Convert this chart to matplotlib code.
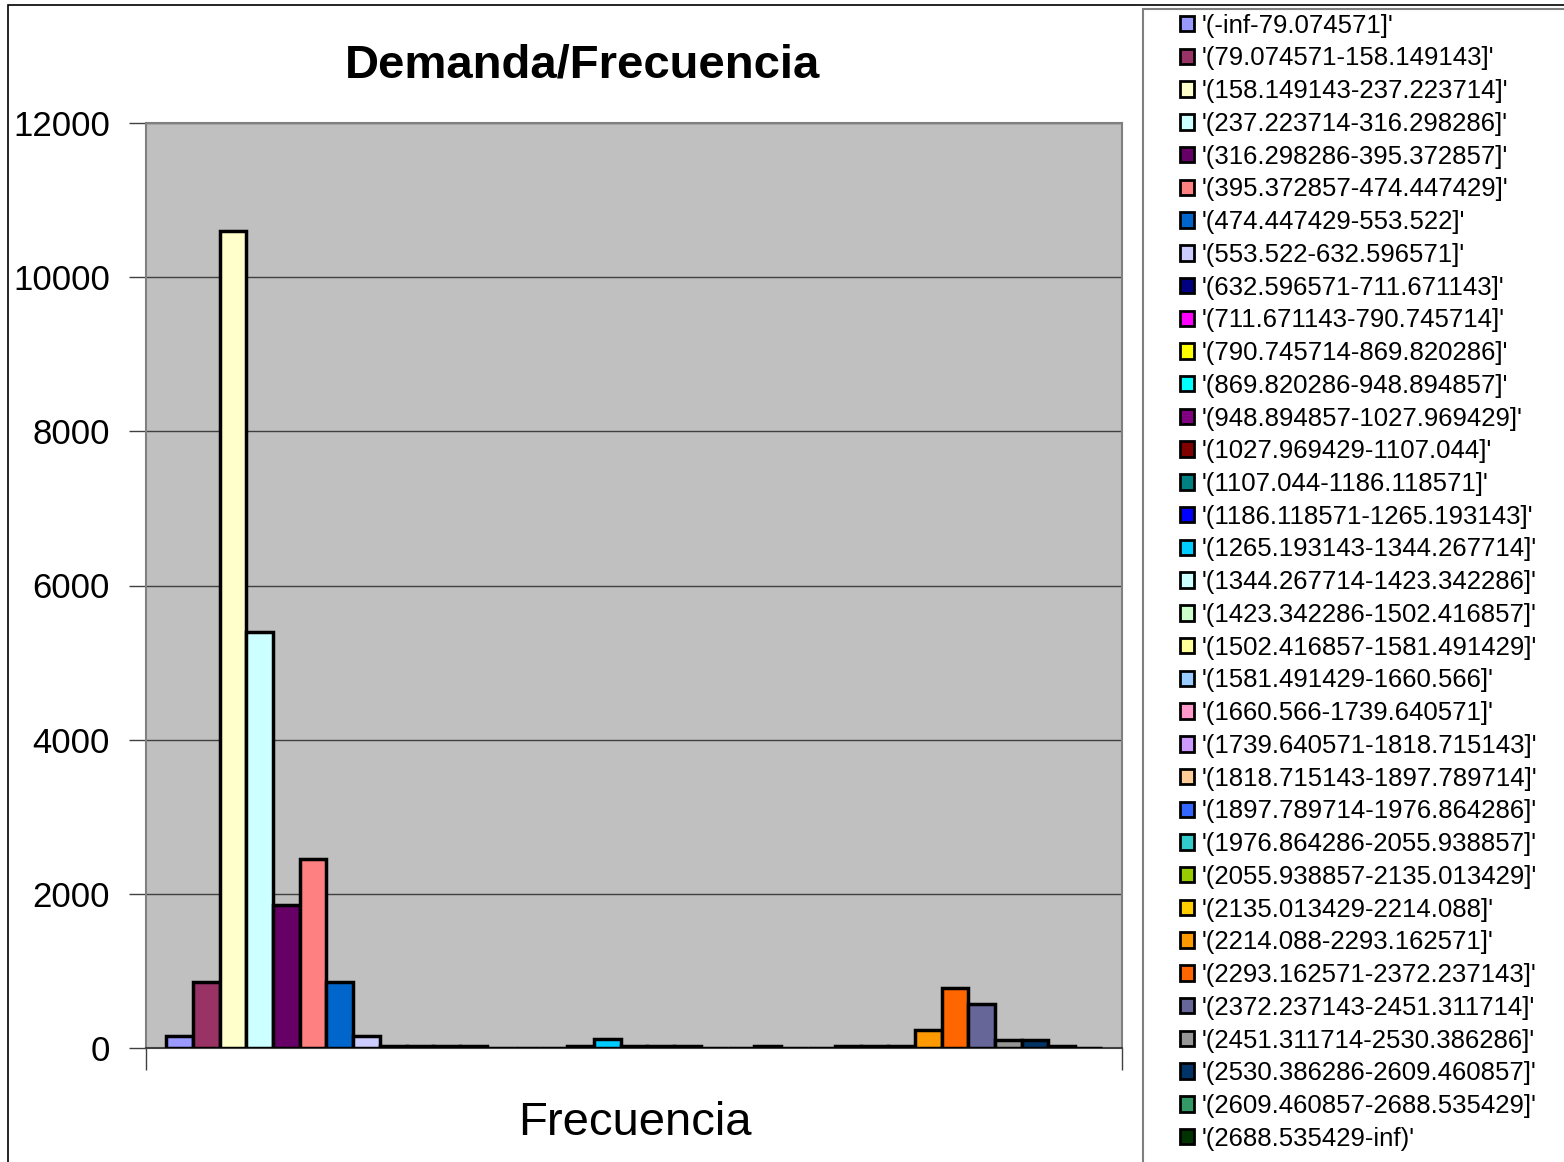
import numpy as np
import matplotlib
matplotlib.use("Agg")
import matplotlib.pyplot as plt
from matplotlib.patches import Patch, Rectangle

# 35 class intervals of demand, one bar each
labels = [
    "'(-inf-79.074571]'", "'(79.074571-158.149143]'", "'(158.149143-237.223714]'",
    "'(237.223714-316.298286]'", "'(316.298286-395.372857]'", "'(395.372857-474.447429]'",
    "'(474.447429-553.522]'", "'(553.522-632.596571]'", "'(632.596571-711.671143]'",
    "'(711.671143-790.745714]'", "'(790.745714-869.820286]'", "'(869.820286-948.894857]'",
    "'(948.894857-1027.969429]'", "'(1027.969429-1107.044]'", "'(1107.044-1186.118571]'",
    "'(1186.118571-1265.193143]'", "'(1265.193143-1344.267714]'", "'(1344.267714-1423.342286]'",
    "'(1423.342286-1502.416857]'", "'(1502.416857-1581.491429]'", "'(1581.491429-1660.566]'",
    "'(1660.566-1739.640571]'", "'(1739.640571-1818.715143]'", "'(1818.715143-1897.789714]'",
    "'(1897.789714-1976.864286]'", "'(1976.864286-2055.938857]'", "'(2055.938857-2135.013429]'",
    "'(2135.013429-2214.088]'", "'(2214.088-2293.162571]'", "'(2293.162571-2372.237143]'",
    "'(2372.237143-2451.311714]'", "'(2451.311714-2530.386286]'", "'(2530.386286-2609.460857]'",
    "'(2609.460857-2688.535429]'", "'(2688.535429-inf)'",
]
frequency = [
    150, 860, 10600, 5400, 1860, 2450, 860, 150, 30, 30,
    30, 30, 0, 0, 0, 30, 120, 30, 30, 30,
    0, 0, 30, 0, 0, 30, 30, 30, 240, 780,
    570, 100, 110, 30, 0,
]
colors = [
    "#9999FF", "#993366", "#FFFFCC", "#CCFFFF", "#660066", "#FF8080", "#0066CC",
    "#CCCCFF", "#000080", "#FF00FF", "#FFFF00", "#00FFFF", "#800080", "#800000",
    "#008080", "#0000FF", "#00CCFF", "#CCFFFF", "#CCFFCC", "#FFFF99", "#99CCFF",
    "#FF99CC", "#CC99FF", "#FFCC99", "#3366FF", "#33CCCC", "#99CC00", "#FFCC00",
    "#FF9900", "#FF6600", "#666699", "#969696", "#003366", "#339966", "#003300",
]
yticks = [0, 2000, 4000, 6000, 8000, 10000, 12000]

W, H = 1564, 1162
fig = plt.figure(figsize=(W / 100, H / 100), dpi=100)
plt.rcParams["font.family"] = ["Liberation Sans", "DejaVu Sans"]

ax = fig.add_axes([146 / W, 1 - 1048 / H, (1122 - 146) / W, (1048 - 123) / H])
ax.set_facecolor("#C0C0C0")

x = np.arange(len(frequency))
ax.bar(x, frequency, width=1.0, color=colors, edgecolor="black", linewidth=2.5, zorder=3)
ax.set_xlim(-0.5 - 0.75, len(frequency) - 0.5 + 0.75)
ax.set_ylim(0, 12000)
ax.set_yticks(yticks)
ax.set_yticklabels([str(v) for v in yticks], fontsize=25)
ax.grid(axis="y", color="#404040", linewidth=1.0, zorder=1)
ax.tick_params(axis="y", length=12, width=1, color="#404040", pad=14)
ax.set_xticks([ax.get_xlim()[0], ax.get_xlim()[1]])
ax.set_xticklabels(["", ""])
ax.tick_params(axis="x", length=16, width=1, color="#404040")
for side in ("top", "left", "right"):
    ax.spines[side].set_color("#808080")
    ax.spines[side].set_linewidth(1.5)
ax.spines["bottom"].set_color("#404040")
ax.spines["bottom"].set_linewidth(1.5)

fig.text(582 / W, 1 - 66 / H, "Demanda/Frecuencia", ha="center", va="center",
         fontsize=34, fontweight="bold")
fig.text(635 / W, 1 - 1123 / H, "Frecuencia", ha="center", va="center", fontsize=34)

# outer chart frame and legend frame
fig.patches.append(Rectangle((8 / W, -0.01), 1.1, 1 - 5 / H + 0.01, transform=fig.transFigure,
                             fill=False, edgecolor="black", linewidth=1.2))
fig.patches.append(Rectangle((1143 / W, -0.01), 1.1, 1 - 9 / H + 0.01, transform=fig.transFigure,
                             fill=False, edgecolor="#808080", linewidth=1.5))

handles = [Patch(facecolor=c, edgecolor="black", linewidth=2) for c in colors]
leg = fig.legend(handles, labels, loc="upper left", bbox_to_anchor=(1172 / W, 1 - 6 / H),
                 fontsize=18.5, frameon=False, borderaxespad=0,
                 handlelength=0.55, handleheight=0.55, handletextpad=0.3,
                 labelspacing=0.34, borderpad=0.3)

fig.savefig("out.png", dpi=100)
